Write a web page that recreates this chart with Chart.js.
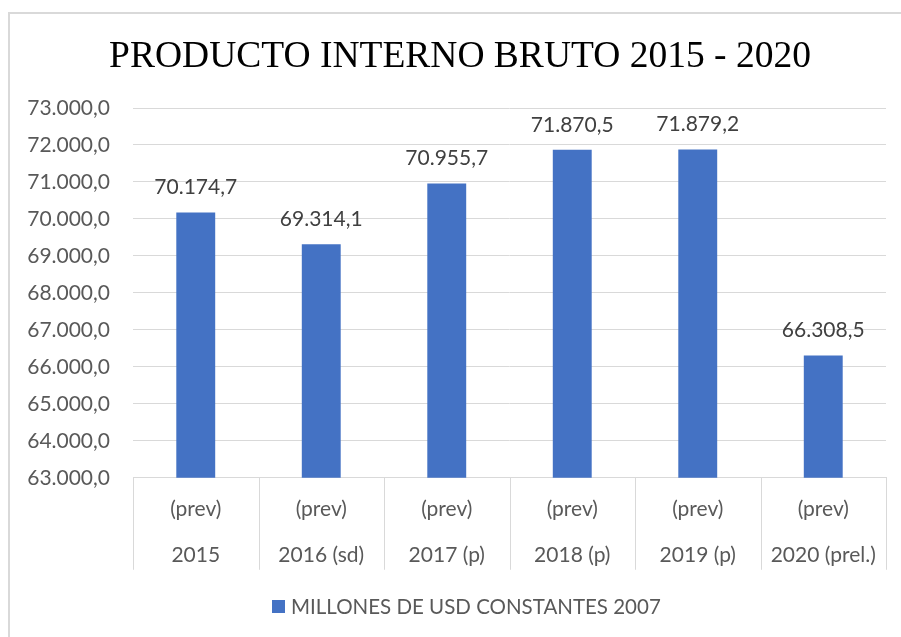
<!DOCTYPE html>
<html>
<head>
<meta charset="utf-8">
<script src="https://cdn.jsdelivr.net/npm/chart.js@4/dist/chart.umd.min.js"></script>
<style>
  html, body { margin: 0; padding: 0; background: #fff; }
  #wrap { position: relative; width: 901px; height: 637px; }
</style>
</head>
<body>
<div id="wrap"><canvas id="myChart" width="901" height="637"></canvas></div>
<script>
// datos del gráfico
const anios = ['2015', '2016 (sd)', '2017 (p)', '2018 (p)', '2019 (p)', '2020 (prel.)'];
const subEtiqueta = ['(prev)', '(prev)', '(prev)', '(prev)', '(prev)', '(prev)'];
const pib = [70174.7, 69314.1, 70955.7, 71870.5, 71879.2, 66308.5];
const nombreSerie = 'MILLONES DE USD CONSTANTES 2007';
const titulo = 'PRODUCTO INTERNO BRUTO 2015 - 2020';

const gris = '#595959';
const lineaGris = '#d9d9d9';
const azul = '#4472C4';

// formato 70.174,7
function formatoES(v, dec) {
  const partes = v.toFixed(dec).split('.');
  partes[0] = partes[0].replace(/\B(?=(\d{3})+(?!\d))/g, '.');
  return partes.join(',');
}

// borde exterior y título (centrado sobre el marco, no sobre el área)
const marcoTitulo = {
  id: 'marcoTitulo',
  beforeDraw(chart) {
    const ctx = chart.ctx;
    ctx.save();
    ctx.strokeStyle = lineaGris;
    ctx.lineWidth = 2;
    ctx.beginPath();
    ctx.moveTo(9, 640);
    ctx.lineTo(9, 13);
    ctx.lineTo(905, 13);
    ctx.stroke();
    ctx.font = '37.5px "Liberation Serif"';
    ctx.fillStyle = '#000';
    ctx.textAlign = 'center';
    ctx.textBaseline = 'middle';
    ctx.fillText(titulo, 460, 57);
    ctx.restore();
  }
};

// leyenda: como en Excel, centrada sobre el marco
const leyenda = {
  id: 'leyenda',
  afterDraw(chart) {
    const ctx = chart.ctx;
    const ds = chart.data.datasets[0];
    ctx.save();
    ctx.fillStyle = ds.backgroundColor;
    ctx.fillRect(272, 600, 13, 13);
    ctx.font = '20.5px Lato';
    ctx.fillStyle = gris;
    ctx.textAlign = 'left';
    ctx.textBaseline = 'middle';
    ctx.fillText(ds.label, 291, 607);
    ctx.restore();
  }
};

// separadores verticales del eje de categorías
const separadores = {
  id: 'separadores',
  afterDraw(chart) {
    const x = chart.scales.x;
    const ctx = chart.ctx;
    const n = anios.length;
    const paso = (x.right - x.left) / n;
    ctx.save();
    ctx.strokeStyle = lineaGris;
    ctx.lineWidth = 1;
    for (let i = 0; i <= n; i++) {
      const px = Math.round(x.left + paso * i) + 0.5;
      ctx.beginPath();
      ctx.moveTo(px, chart.chartArea.bottom);
      ctx.lineTo(px, chart.chartArea.bottom + 92);
      ctx.stroke();
    }
    ctx.restore();
  }
};

// etiquetas de datos encima de las barras
const etiquetasDatos = {
  id: 'etiquetasDatos',
  afterDatasetsDraw(chart) {
    const ctx = chart.ctx;
    const meta = chart.getDatasetMeta(0);
    ctx.save();
    ctx.font = '21px Lato';
    ctx.fillStyle = '#404040';
    ctx.textAlign = 'center';
    ctx.textBaseline = 'middle';
    meta.data.forEach((bar, i) => {
      ctx.fillText(formatoES(pib[i], 1), bar.x, bar.y - 25);
    });
    ctx.restore();
  }
};

const ctx = document.getElementById('myChart');
new Chart(ctx, {
  type: 'bar',
  data: {
    labels: anios.map((a, i) => [subEtiqueta[i], a]),
    datasets: [{
      label: nombreSerie,
      data: pib,
      backgroundColor: azul,
      barPercentage: 0.31,
      categoryPercentage: 1
    }]
  },
  options: {
    responsive: false,
    animation: false,
    layout: { padding: { left: 25, right: 15, top: 108, bottom: 58 } },
    plugins: {
      title: { display: false },
      legend: { display: false },
      tooltip: { enabled: false }
    },
    scales: {
      y: {
        min: 63000,
        max: 73000,
        afterFit: (escala) => { escala.width = 108; },
        ticks: {
          stepSize: 1000,
          color: gris,
          font: { family: 'Lato', size: 21 },
          padding: 23,
          callback: (v) => formatoES(v, 1)
        },
        grid: { color: lineaGris, drawTicks: false },
        border: { display: false }
      },
      x: {
        ticks: {
          color: gris,
          font: { family: 'Lato', size: 21, lineHeight: 2.22 },
          padding: 0,
          maxRotation: 0
        },
        grid: { display: false },
        border: { display: true, color: lineaGris }
      }
    }
  },
  plugins: [marcoTitulo, separadores, etiquetasDatos, leyenda]
});
</script>
</body>
</html>
